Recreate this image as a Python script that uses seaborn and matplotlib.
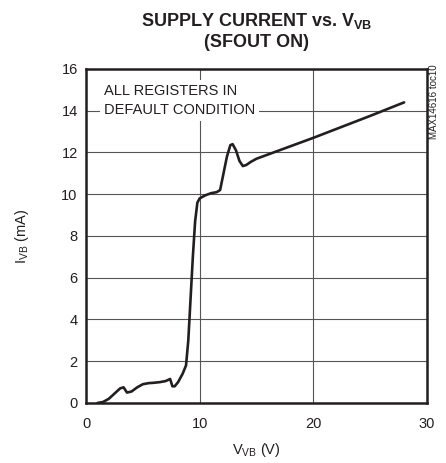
import matplotlib
matplotlib.use("Agg")
import matplotlib.pyplot as plt
import seaborn as sns
import pandas as pd

# supply current curve
vvb = [1.0, 1.5, 2.0, 2.5, 3.0, 3.3, 3.6, 4.0, 4.5, 5.0, 5.5, 6.0, 6.5, 7.0,
       7.4, 7.6, 7.8, 8.1, 8.5, 8.8, 9.0, 9.2, 9.4, 9.6, 9.8, 10.0, 10.5,
       11.0, 11.5, 11.8, 12.1, 12.4, 12.7, 12.9, 13.2, 13.5, 13.8, 14.1,
       14.5, 15.0, 20.0, 25.0, 28.0]
ivb = [0.0, 0.05, 0.2, 0.45, 0.7, 0.75, 0.5, 0.55, 0.75, 0.9, 0.95, 0.97,
       1.0, 1.05, 1.15, 0.8, 0.8, 1.0, 1.4, 1.8, 3.0, 5.0, 7.0, 8.7, 9.6,
       9.8, 9.95, 10.05, 10.1, 10.2, 11.0, 11.8, 12.35, 12.4, 12.1, 11.6,
       11.35, 11.4, 11.55, 11.7, 12.7, 13.75, 14.4]

x_ticks = [0, 10, 20, 30]
y_ticks = [0, 2, 4, 6, 8, 10, 12, 14, 16]

df = pd.DataFrame({"vvb": vvb, "ivb": ivb})

sns.set_style("white")
plt.rcParams["font.family"] = ["Liberation Sans", "DejaVu Sans"]
plt.rcParams["mathtext.fontset"] = "custom"
plt.rcParams["mathtext.rm"] = "Liberation Sans"

fig = plt.figure(figsize=(4.46, 4.63), dpi=100)
ax = fig.add_axes([0.193, 0.1296, 0.764, 0.7214])

sns.lineplot(data=df, x="vvb", y="ivb", ax=ax, sort=False, estimator=None,
             color="#231f20", linewidth=1.9, zorder=3)

ax.set_xlim(0, 30)
ax.set_ylim(0, 16)
ax.set_xticks(x_ticks)
ax.set_yticks(y_ticks)
ax.tick_params(axis="both", length=0, labelsize=10.5, colors="#231f20", pad=6)
ax.tick_params(axis="x", pad=10)
ax.grid(True, color="#555555", linewidth=0.8)
for sp in ax.spines.values():
    sp.set_linewidth(1.8)
    sp.set_color("#231f20")

ax.set_xlabel(r"V$_{\mathregular{VB}}$ (V)", fontsize=10.5, color="#231f20", labelpad=7)
ax.set_ylabel(r"I$_{\mathregular{VB}}$ (mA)", fontsize=10.5, color="#231f20", labelpad=22)
ax.set_title("SUPPLY CURRENT vs. V$_{\\mathregular{VB}}$\n(SFOUT ON)",
             fontsize=13, fontweight="bold", color="#231f20", pad=16,
             linespacing=1.2)

ax.text(0.052, 0.955, "ALL REGISTERS IN\nDEFAULT CONDITION", transform=ax.transAxes,
        ha="left", va="top", fontsize=10.5, color="#231f20", linespacing=1.45,
        zorder=4, bbox=dict(facecolor="white", edgecolor="none", pad=3))

fig.text(0.963, 0.86, "MAX14616 toc10", rotation=90, ha="left", va="top",
         fontsize=7, color="#231f20")

fig.savefig("out.png", dpi=100)
